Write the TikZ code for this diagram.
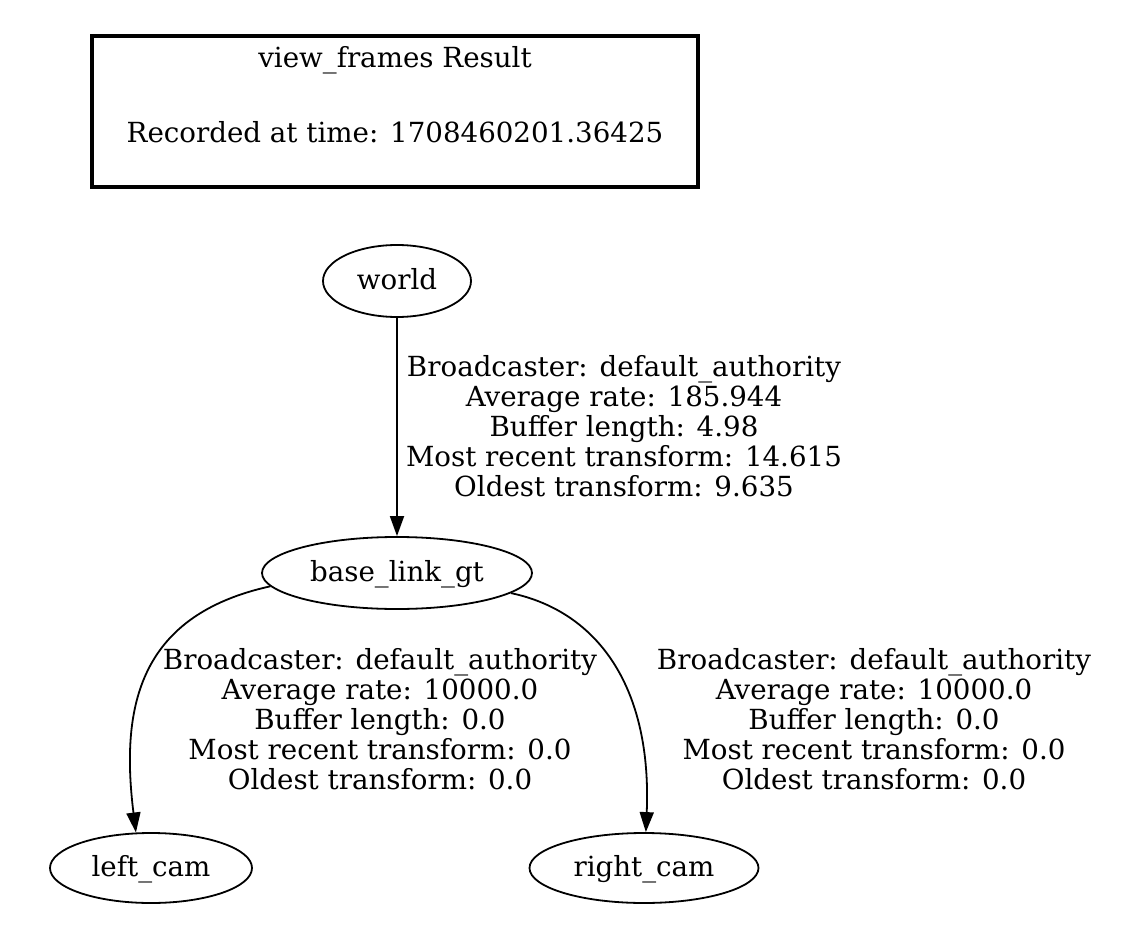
\documentclass[tikz,border=0pt]{standalone}
\usepackage{fontspec}
\setmainfont{DejaVu Serif}
\usetikzlibrary{shapes.geometric,arrows.meta}
\begin{document}
\begin{tikzpicture}[x=1pt,y=-1pt,
  every node/.style={font=\fontsize{27.7}{30}\selectfont},
  frame/.style={ellipse,draw,line width=1.8pt,inner sep=0pt,text height=21pt,text depth=4pt},
  link/.style={line width=1.8pt,-{Triangle[length=20pt,width=14pt]}},
  lbl/.style={anchor=base,inner sep=0pt}]
\useasboundingbox (0,0) rectangle (1146,936);
% legend box
\node[draw,line width=4pt,minimum width=606pt,minimum height=151pt,inner sep=0pt] (legend) at (395,111.5) {};
\node[lbl] (legendtitle) at (395,68) {view\_frames Result};
\node[lbl] (legendtime) at (395,143) {Recorded at time: 1708460201.36425};
% frames
\node[frame,minimum width=148pt,minimum height=72pt] (world) at (397,281) {world};
\node[frame,minimum width=270pt,minimum height=72pt] (base) at (397,573) {base\_link\_gt};
\node[frame,minimum width=202pt,minimum height=70pt] (left) at (151,868) {left\_cam};
\node[frame,minimum width=229pt,minimum height=70pt] (right) at (644,868) {right\_cam};
% edges
\draw[link] (world.south) -- (base.north);
\draw[link] (base.186) .. controls (140,615) and (120,705) .. (left.113);
\draw[link] (base.350) .. controls (600,612) and (652,690) .. (right.87);
% edge labels
\node[lbl] (lblworld) at (624,376) {\begin{tabular}[t]{@{}c@{}}Broadcaster: default\_authority\\ Average rate: 185.944\\ Buffer length: 4.98\\ Most recent transform: 14.615\\ Oldest transform: 9.635\end{tabular}};
\node[lbl] (lblleft) at (380,669) {\begin{tabular}[t]{@{}c@{}}Broadcaster: default\_authority\\ Average rate: 10000.0\\ Buffer length: 0.0\\ Most recent transform: 0.0\\ Oldest transform: 0.0\end{tabular}};
\node[lbl] (lblright) at (874,669) {\begin{tabular}[t]{@{}c@{}}Broadcaster: default\_authority\\ Average rate: 10000.0\\ Buffer length: 0.0\\ Most recent transform: 0.0\\ Oldest transform: 0.0\end{tabular}};
\end{tikzpicture}
\end{document}
